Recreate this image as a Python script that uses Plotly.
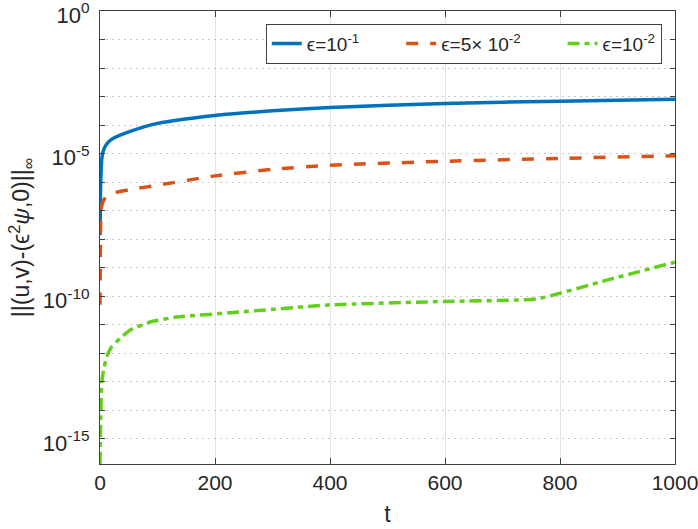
import plotly.graph_objects as go

# Data (t, value)
t_a = [0, 1, 2, 3, 5, 10, 20, 50, 100, 200, 300, 400, 600, 800, 1000]
err_a = [1.38e-8, 6.3e-7, 2.5e-6, 6.3e-6, 1.12e-5, 1.95e-5, 3.16e-5, 5.75e-5,
         1.15e-4, 2.19e-4, 3.16e-4, 4.17e-4, 5.75e-4, 6.92e-4, 8.13e-4]

t_b = [0, 0.5, 1, 2, 4, 10, 20, 50, 100, 200, 300, 400, 600, 800, 1000]
err_b = [5.0e-11, 1.6e-9, 2.5e-8, 1.0e-7, 1.78e-7, 3.0e-7, 4.0e-7, 5.4e-7,
         7.8e-7, 1.66e-6, 2.8e-6, 3.9e-6, 5.4e-6, 6.8e-6, 8.5e-6]

t_c = [0, 0.5, 1.2, 3, 6, 11.6, 20, 35, 52, 87, 133, 243, 400, 600, 760, 880, 1000]
err_c = [1.32e-16, 1.0e-15, 5.0e-15, 8.9e-14, 2.5e-13, 7.4e-13, 1.66e-12, 3.4e-12,
         6.5e-12, 1.26e-11, 1.86e-11, 2.8e-11, 5.0e-11, 6.6e-11, 8.1e-11, 3.6e-10, 1.58e-9]

PAD = "\u00a0" * 7
names = ["ϵ=10<sup>-1</sup>" + PAD, "ϵ=5× 10<sup>-2</sup>" + PAD, "ϵ=10<sup>-2</sup>"]

x_ticks = [0, 200, 400, 600, 800, 1000]
y_major = [1e0, 1e-5, 1e-10, 1e-15]
y_all = [10.0 ** (-k) for k in range(0, 16)]
y_all_text = [("10<sup>-%d</sup>" % k if k else "10<sup>0</sup>") if k % 5 == 0 else ""
              for k in range(0, 16)]

FONT = "Liberation Sans, Arial, sans-serif"
TXT = "#262626"
AX = "#404040"

fig = go.Figure()
fig.add_trace(go.Scatter(x=t_a, y=err_a, mode="lines", name=names[0],
                         line=dict(color="#0072BD", width=3.5, shape="spline", smoothing=0.6),
                         yaxis="y"))
fig.add_trace(go.Scatter(x=t_b, y=err_b, mode="lines", name=names[1],
                         line=dict(color="#D95319", width=3.5, dash="12px,12px",
                                   shape="spline", smoothing=0.6),
                         yaxis="y"))
fig.add_trace(go.Scatter(x=t_c, y=err_c, mode="lines", name=names[2],
                         line=dict(color="#62CF1A", width=3.5, dash="12px,5px,5px,5px",
                                   shape="spline", smoothing=0.4),
                         yaxis="y"))

yrange = [-15.88, 0]

fig.update_layout(
    width=698, height=529,
    margin=dict(l=100, r=23, t=11, b=65),
    paper_bgcolor="white", plot_bgcolor="white",
    font=dict(family=FONT, color=TXT, size=20),
    showlegend=True,
    legend=dict(orientation="h", x=0.977, xanchor="right", y=0.972, yanchor="top",
                bgcolor="white", bordercolor=AX, borderwidth=1,
                font=dict(size=19, color=TXT), itemwidth=30, tracegroupgap=0),
    xaxis=dict(range=[0, 1000], tickvals=x_ticks, ticks="inside", ticklen=6,
               tickcolor=AX, showline=True, linecolor=AX, linewidth=1, mirror="ticks",
               showgrid=True, gridcolor="#e3e3e3", gridwidth=1, zeroline=False,
               automargin=False, ticklabeloverflow="allow",
               tickfont=dict(size=21, color=TXT),
               title=dict(text="t", font=dict(size=23, color=TXT), standoff=12)),
    yaxis=dict(type="log", range=yrange, tickvals=y_all, ticktext=y_all_text,
               ticks="inside", ticklen=5, tickcolor=AX, showline=True, linecolor=AX,
               linewidth=1, mirror="ticks", showgrid=True, gridcolor="#c8c8c8",
               griddash="2px,4px", gridwidth=1, zeroline=False,
               automargin=False, ticklabeloverflow="allow", ticklabelstandoff=5,
               ticklabelshift=4,
               tickfont=dict(size=22, color=TXT),
               title=dict(text="||(u,v)-(ϵ<sup>2</sup><i>ψ</i>,0)||<sub>∞</sub>",
                          font=dict(size=23, color=TXT), standoff=6)),
    yaxis2=dict(type="log", range=yrange, overlaying="y", tickvals=y_major,
                showticklabels=False, ticks="", showgrid=True, gridcolor="#e3e3e3",
                gridwidth=1, showline=False, zeroline=False, automargin=False),
)

fig.write_html("out.html", config={"displayModeBar": False},
               post_script="document.body.style.margin='0';document.body.style.overflow='hidden';")
